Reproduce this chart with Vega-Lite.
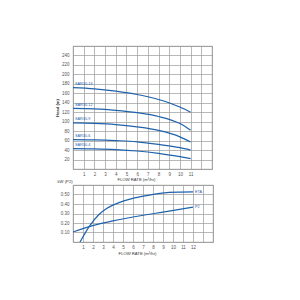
{
  "$schema": "https://vega.github.io/schema/vega-lite/v6.json",
  "background": "white",
  "padding": {"left": 55, "top": 45, "right": 5, "bottom": 5},
  "bounds": "flush",
  "spacing": 16,
  "config": {
    "font": "Liberation Sans",
    "view": {"stroke": "#8a8a8a", "strokeWidth": 0.8},
    "axis": {
      "grid": true,
      "gridColor": "#9a9a9a",
      "gridWidth": 0.7,
      "gridOpacity": 1,
      "ticks": false,
      "domain": false,
      "labelFontSize": 4.5,
      "labelColor": "#555555",
      "titleFontSize": 4.2,
      "titleColor": "#333333",
      "titleFontWeight": "normal"
    }
  },
  "datasets": {
    "head": [
      {"pump": "SAR30-16", "flow": 0, "head": 172},
      {"pump": "SAR30-16", "flow": 2, "head": 169.5},
      {"pump": "SAR30-16", "flow": 4, "head": 164.5},
      {"pump": "SAR30-16", "flow": 6, "head": 157.5},
      {"pump": "SAR30-16", "flow": 8, "head": 147},
      {"pump": "SAR30-16", "flow": 10, "head": 131},
      {"pump": "SAR30-16", "flow": 11, "head": 120},
      {"pump": "SAR30-12", "flow": 0, "head": 128},
      {"pump": "SAR30-12", "flow": 2, "head": 127},
      {"pump": "SAR30-12", "flow": 4, "head": 124},
      {"pump": "SAR30-12", "flow": 6, "head": 119},
      {"pump": "SAR30-12", "flow": 8, "head": 111},
      {"pump": "SAR30-12", "flow": 10, "head": 96},
      {"pump": "SAR30-12", "flow": 11, "head": 82},
      {"pump": "SAR30-9", "flow": 0, "head": 97.5},
      {"pump": "SAR30-9", "flow": 2, "head": 96.5},
      {"pump": "SAR30-9", "flow": 4, "head": 94},
      {"pump": "SAR30-9", "flow": 6, "head": 89},
      {"pump": "SAR30-9", "flow": 8, "head": 81.5},
      {"pump": "SAR30-9", "flow": 10, "head": 68},
      {"pump": "SAR30-9", "flow": 11, "head": 57},
      {"pump": "SAR30-6", "flow": 0, "head": 62},
      {"pump": "SAR30-6", "flow": 2, "head": 61.5},
      {"pump": "SAR30-6", "flow": 4, "head": 60},
      {"pump": "SAR30-6", "flow": 6, "head": 57.5},
      {"pump": "SAR30-6", "flow": 8, "head": 52},
      {"pump": "SAR30-6", "flow": 10, "head": 45},
      {"pump": "SAR30-6", "flow": 11, "head": 40},
      {"pump": "SAR30-4", "flow": 0, "head": 43},
      {"pump": "SAR30-4", "flow": 2, "head": 42.5},
      {"pump": "SAR30-4", "flow": 4, "head": 41},
      {"pump": "SAR30-4", "flow": 6, "head": 38},
      {"pump": "SAR30-4", "flow": 8, "head": 33},
      {"pump": "SAR30-4", "flow": 10, "head": 26},
      {"pump": "SAR30-4", "flow": 11, "head": 22}
    ],
    "power": [
      {"curve": "ETA", "flow": 0.7, "kw": 0},
      {"curve": "ETA", "flow": 1.7, "kw": 0.175},
      {"curve": "ETA", "flow": 2.6, "kw": 0.29},
      {"curve": "ETA", "flow": 3.4, "kw": 0.355},
      {"curve": "ETA", "flow": 4.6, "kw": 0.415},
      {"curve": "ETA", "flow": 5.7, "kw": 0.452},
      {"curve": "ETA", "flow": 6.9, "kw": 0.48},
      {"curve": "ETA", "flow": 8.9, "kw": 0.515},
      {"curve": "ETA", "flow": 10.5, "kw": 0.525},
      {"curve": "ETA", "flow": 12, "kw": 0.527},
      {"curve": "P2", "flow": 0, "kw": 0.105},
      {"curve": "P2", "flow": 1.7, "kw": 0.165},
      {"curve": "P2", "flow": 4, "kw": 0.222},
      {"curve": "P2", "flow": 6.9, "kw": 0.279},
      {"curve": "P2", "flow": 9, "kw": 0.315},
      {"curve": "P2", "flow": 12, "kw": 0.367}
    ]
  },
  "vconcat": [
    {
      "width": 139,
      "height": 123,
      "encoding": {
        "x": {
          "field": "flow", "type": "quantitative",
          "scale": {"domain": [0, 13], "nice": false},
          "axis": {
            "title": "FLOW RATE (m³/hr)",
            "values": [0,1,2,3,4,5,6,7,8,9,10,11,12,13],
            "labelExpr": "datum.value >= 1 && datum.value <= 11 ? datum.label : ''",
            "labelPadding": 2,
            "titlePadding": 2,
            "titleX": 63
          }
        },
        "y": {
          "field": "head", "type": "quantitative",
          "scale": {"domain": [0, 260], "nice": false},
          "axis": {
            "title": "Head (m)",
            "titleFontWeight": "bold",
            "values": [0,20,40,60,80,100,120,140,160,180,200,220,240,260],
            "labelExpr": "datum.value >= 20 && datum.value <= 240 ? datum.label : ''",
            "labelPadding": 4,
            "titlePadding": 2
          }
        }
      },
      "layer": [
        {
          "data": {"name": "head"},
          "mark": {"type": "line", "interpolate": "monotone", "color": "#1f62ac", "strokeWidth": 1.2},
          "encoding": {"detail": {"field": "pump"}}
        },
        {
          "data": {"name": "head"},
          "transform": [{"filter": "datum.flow == 0"}],
          "mark": {"type": "text", "align": "left", "baseline": "middle", "dx": 2, "dy": -3.5, "fontSize": 3.8, "color": "#1f62ac"},
          "encoding": {"text": {"field": "pump"}}
        }
      ]
    },
    {
      "width": 140,
      "height": 57,
      "encoding": {
        "x": {
          "field": "flow", "type": "quantitative",
          "scale": {"domain": [0, 14], "nice": false},
          "axis": {
            "title": "FLOW RATE (m³/hr)",
            "values": [0,1,2,3,4,5,6,7,8,9,10,11,12,13,14],
            "labelExpr": "datum.value >= 1 && datum.value <= 12 ? datum.label : ''",
            "labelPadding": 2,
            "titlePadding": 3,
            "titleX": 64
          }
        },
        "y": {
          "field": "kw", "type": "quantitative",
          "scale": {"domain": [0, 0.6], "nice": false},
          "axis": {
            "title": "kW (P2)",
            "titleAngle": 0,
            "titleAlign": "left",
            "titleBaseline": "bottom",
            "titleX": -16,
            "titleY": -2,
            "format": ".2f",
            "values": [0, 0.1, 0.2, 0.3, 0.4, 0.5, 0.6],
            "labelExpr": "datum.value > 0.05 && datum.value < 0.55 ? datum.label : ''",
            "labelPadding": 4
          }
        }
      },
      "layer": [
        {
          "data": {"name": "power"},
          "mark": {"type": "line", "interpolate": "monotone", "color": "#1f62ac", "strokeWidth": 1.2, "clip": true},
          "encoding": {"detail": {"field": "curve"}}
        },
        {
          "data": {"name": "power"},
          "transform": [{"filter": "datum.flow == 12"}],
          "mark": {"type": "text", "align": "left", "baseline": "middle", "dx": 2, "fontSize": 3.8, "color": "#1f62ac"},
          "encoding": {"text": {"field": "curve"}}
        }
      ]
    }
  ]
}
